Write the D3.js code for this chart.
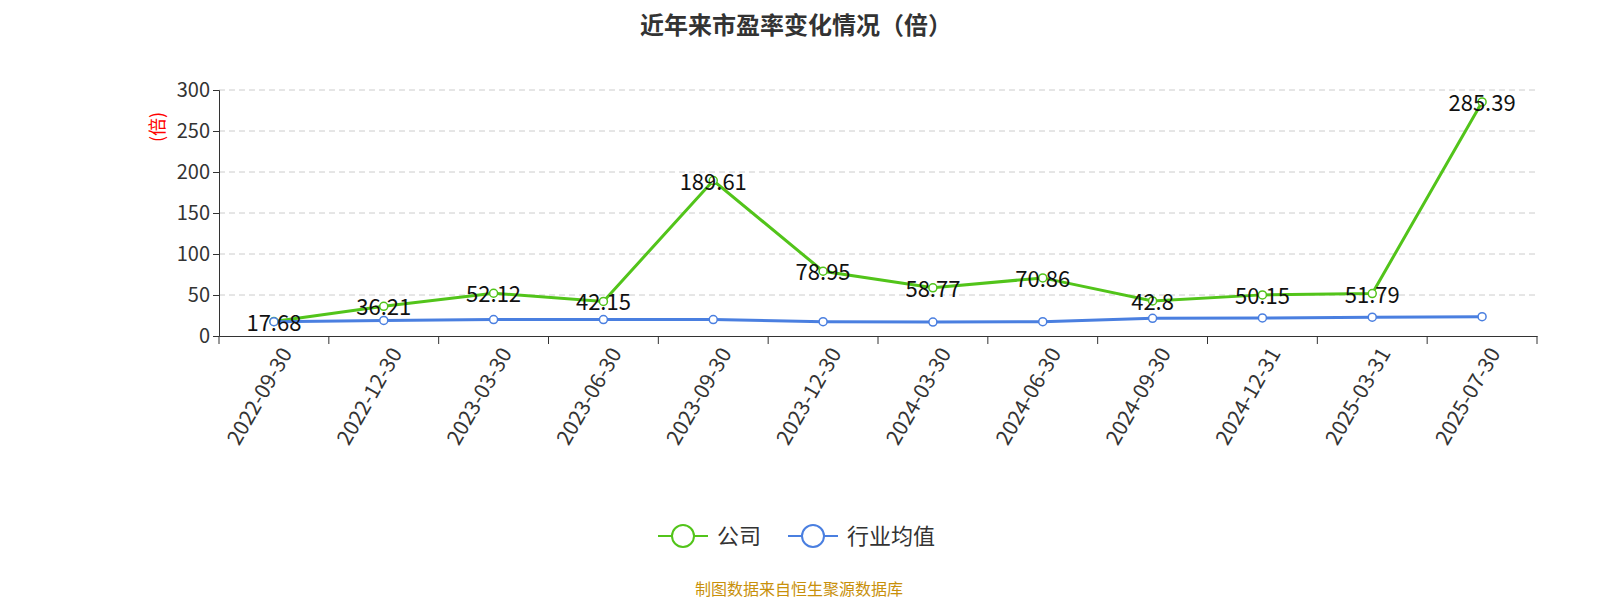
<!DOCTYPE html>
<html><head><meta charset="utf-8">
<script src="https://cdn.jsdelivr.net/npm/d3@7"></script>
<style>body{margin:0;background:#fff;font-family:"Noto Sans CJK SC","Noto Sans",sans-serif;}</style>
</head><body><svg id="c" width="1600" height="600"></svg>
<script>
const dates = ["2022-09-30","2022-12-30","2023-03-30","2023-06-30","2023-09-30","2023-12-30","2024-03-30","2024-06-30","2024-09-30","2024-12-31","2025-03-31","2025-07-30"];
const company = [17.68,36.21,52.12,42.15,189.61,78.95,58.77,70.86,42.8,50.15,51.79,285.39];
const industry = [17.5,19,20,20,20,17.5,17,17.5,21.5,22,23,23.5];
const yTicks = [0,50,100,150,200,250,300];
const seriesNames = ["公司","行业均值"];
const colors = ["#52c41a","#4a7fe0"];

const svg = d3.select("#c");
const L = 219, R = 1537, T = 90, B = 336;
const x = d3.scaleBand().domain(dates).range([L, R]);
const y = d3.scaleLinear().domain([0, 300]).range([B, T]);
const font = '"Noto Sans CJK SC","Noto Sans",sans-serif';

svg.append("text").attr("x", 796).attr("y", 34).attr("text-anchor", "middle")
  .attr("font-size", 24).attr("font-weight", "bold").attr("fill", "#333").text("近年来市盈率变化情况（倍）");

svg.append("g").selectAll("line").data(yTicks.slice(1)).join("line")
  .attr("x1", L).attr("x2", R).attr("y1", d => y(d)).attr("y2", d => y(d))
  .attr("stroke", "#ccc").attr("stroke-dasharray", "6,4");

const ya = svg.append("g").attr("transform", `translate(${L},0)`)
  .call(d3.axisLeft(y).tickValues(yTicks).tickSize(6));
ya.selectAll("text").attr("font-size", 20).attr("fill", "#333").attr("font-family", font);
ya.selectAll("line,path").attr("stroke", "#333");

svg.append("text").attr("transform", "translate(164,127) rotate(-90)").attr("text-anchor", "middle")
  .attr("fill", "red").attr("font-size", 18).text("(倍)");

const xa = svg.append("g").attr("transform", `translate(0,${B})`)
  .call(d3.axisBottom(x).tickSize(0));
xa.select("path").attr("stroke", "#333");
xa.selectAll("line").remove();
svg.append("g").selectAll("line").data(d3.range(dates.length + 1)).join("line")
  .attr("x1", i => L + i * x.step()).attr("x2", i => L + i * x.step())
  .attr("y1", B).attr("y2", B + 8).attr("stroke", "#333");
xa.selectAll("text").attr("font-size", 21).attr("fill", "#333").attr("font-family", font)
  .attr("text-anchor", "end").attr("dy", "0.35em")
  .attr("transform", "translate(10,12) rotate(-60)");

const cx = d => x(d) + x.bandwidth() / 2;
[company, industry].forEach((vals, k) => {
  const pts = dates.map((d, i) => [cx(d), y(vals[i])]);
  svg.append("path").attr("d", d3.line()(pts)).attr("fill", "none")
    .attr("stroke", colors[k]).attr("stroke-width", 3);
  svg.append("g").selectAll("circle").data(pts).join("circle")
    .attr("cx", p => p[0]).attr("cy", p => p[1]).attr("r", 4)
    .attr("fill", "#fff").attr("stroke", colors[k]).attr("stroke-width", 1.5);
});
svg.append("g").selectAll("text").data(company).join("text")
  .attr("x", (v, i) => cx(dates[i])).attr("y", v => y(v) + 9)
  .attr("text-anchor", "middle").attr("font-size", 22).attr("fill", "#111").text(v => v);

const lg = svg.append("g");
[[658, 0], [788, 1]].forEach(([lx, k]) => {
  lg.append("line").attr("x1", lx).attr("x2", lx + 50).attr("y1", 536).attr("y2", 536)
    .attr("stroke", colors[k]).attr("stroke-width", 2);
  lg.append("circle").attr("cx", lx + 25).attr("cy", 536).attr("r", 11)
    .attr("fill", "#fff").attr("stroke", colors[k]).attr("stroke-width", 2);
  lg.append("text").attr("x", lx + 59).attr("y", 544).attr("font-size", 22)
    .attr("fill", "#333").text(seriesNames[k]);
});

svg.append("text").attr("x", 799).attr("y", 595).attr("text-anchor", "middle")
  .attr("font-size", 16).attr("fill", "#c8900a").text("制图数据来自恒生聚源数据库");
</script></body></html>
